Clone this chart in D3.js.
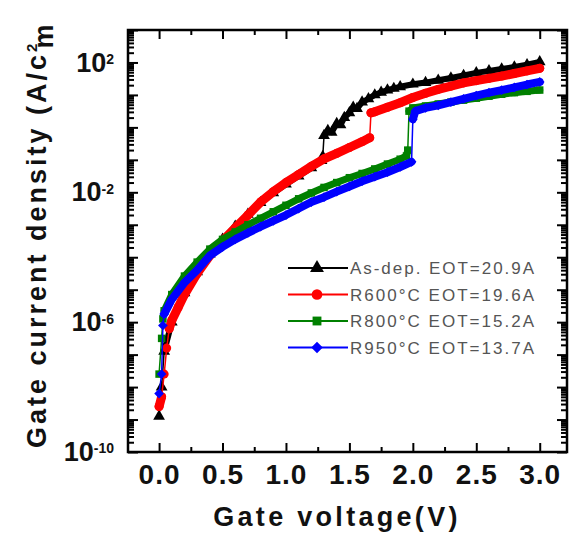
<!DOCTYPE html>
<html>
<head>
<meta charset="utf-8">
<script src="https://cdn.jsdelivr.net/npm/d3@7"></script>
<style>
  body { margin: 0; background: #fff; }
  text { font-family: "Liberation Sans", Arial, sans-serif; }
</style>
</head>
<body>
<div id="drawing"></div>
<script>
// data (log10 of J in A/cm2)
var legendLabels = ["As-dep. EOT=20.9A", "R600°C EOT=19.6A", "R800°C EOT=15.2A", "R950°C EOT=13.7A"];

var asDepV = [0, 0.02, 0.04, 0.1, 0.2, 0.3, 0.4, 0.5, 0.6, 0.7, 0.8, 0.9, 1.0, 1.1, 1.2, 1.28, 1.29, 1.3, 1.33, 1.36, 1.4, 1.43, 1.46, 1.5, 1.53, 1.56, 1.6, 1.65, 1.7, 1.75, 1.8, 1.85, 1.9, 2.0, 2.1, 2.2, 2.3, 2.4, 2.5, 2.6, 2.7, 2.8, 2.9, 3.0];
var asDepLogJ = [-8.9, -8.0, -6.9, -6.0, -5.1, -4.45, -3.9, -3.45, -3.05, -2.68, -2.32, -2.02, -1.75, -1.5, -1.25, -1.02, -0.9, -0.25, -0.1, -0.15, 0.12, 0.08, 0.3, 0.45, 0.62, 0.58, 0.78, 0.88, 1.0, 1.08, 1.15, 1.2, 1.25, 1.33, 1.38, 1.45, 1.52, 1.6, 1.68, 1.74, 1.8, 1.86, 1.93, 2.02];

var r600V = [0, 0.02, 0.04, 0.06, 0.08, 0.1, 0.15, 0.2, 0.3, 0.4, 0.5, 0.6, 0.7, 0.8, 0.9, 1.0, 1.1, 1.2, 1.3, 1.4, 1.5, 1.6, 1.66, 1.67, 1.7, 1.8, 1.9, 2.0, 2.1, 2.2, 2.3, 2.4, 2.5, 2.6, 2.7, 2.8, 2.9, 3.0];
var r600LogJ = [-8.6, -8.3, -7.6, -6.8, -6.2, -5.95, -5.55, -5.15, -4.5, -3.95, -3.5, -3.1, -2.7, -2.3, -1.98, -1.7, -1.45, -1.2, -0.97, -0.8, -0.62, -0.44, -0.32, 0.45, 0.48, 0.62, 0.76, 0.92, 1.05, 1.17, 1.27, 1.37, 1.44, 1.51, 1.58, 1.66, 1.74, 1.82];

var r800V = [0, 0.02, 0.03, 0.04, 0.1, 0.2, 0.3, 0.4, 0.5, 0.6, 0.7, 0.8, 0.9, 1.0, 1.1, 1.2, 1.3, 1.4, 1.5, 1.6, 1.7, 1.8, 1.9, 1.95, 1.96, 1.97, 2.0, 2.1, 2.2, 2.3, 2.4, 2.5, 2.6, 2.7, 2.8, 2.9, 3.0];
var r800LogJ = [-7.6, -6.5, -5.9, -5.65, -5.15, -4.58, -4.15, -3.75, -3.45, -3.22, -3.0, -2.8, -2.6, -2.4, -2.2, -2.02, -1.85, -1.7, -1.55, -1.42, -1.28, -1.13, -0.98, -0.88, -0.7, 0.5, 0.6, 0.66, 0.72, 0.78, 0.84, 0.9, 0.96, 1.02, 1.07, 1.11, 1.15];

var r950V = [0, 0.02, 0.03, 0.04, 0.1, 0.2, 0.3, 0.4, 0.5, 0.6, 0.7, 0.8, 0.9, 1.0, 1.1, 1.2, 1.3, 1.4, 1.5, 1.6, 1.7, 1.8, 1.9, 1.99, 2.0, 2.02, 2.1, 2.2, 2.3, 2.4, 2.5, 2.6, 2.7, 2.8, 2.9, 3.0];
var r950LogJ = [-8.2, -7.6, -6.1, -5.75, -5.3, -4.78, -4.4, -3.95, -3.68, -3.45, -3.25, -3.06, -2.88, -2.7, -2.5, -2.3, -2.15, -1.98, -1.82, -1.66, -1.52, -1.38, -1.22, -1.06, 0.25, 0.5, 0.6, 0.68, 0.78, 0.88, 0.98, 1.07, 1.15, 1.23, 1.32, 1.4];

var xMajorTicks = [0, 0.5, 1.0, 1.5, 2.0, 2.5, 3.0];
var xMinorTicks = [0.25, 0.75, 1.25, 1.75, 2.25, 2.75];
var yLabelExps = [2, -2, -6, -10];

var width = 571;
var height = 533;
var plot = {left: 128, right: 567, top: 30, bottom: 452};

var svg = d3.select("#drawing").append("svg")
  .attr("width", width)
  .attr("height", height);

var xScale = d3.scaleLinear().domain([-0.245, 3.215]).range([plot.left, plot.right]);
var yScale = d3.scaleLog().domain([1e-10, 1e3]).range([plot.bottom, plot.top]);

var diamond = d3.symbolDiamond2 || d3.symbolDiamond;

var series = [
  {v: asDepV, j: asDepLogJ, color: "#000000", symbol: d3.symbolTriangle, size: 60, band: 6},
  {v: r600V, j: r600LogJ, color: "#ff0000", symbol: d3.symbolCircle, size: 64, band: 9},
  {v: r800V, j: r800LogJ, color: "#008000", symbol: d3.symbolSquare, size: 56, band: 7},
  {v: r950V, j: r950LogJ, color: "#0000ff", symbol: diamond, size: 60, band: 8}
];
series.forEach(function(s, i) {
  s.name = legendLabels[i];
  s.points = s.v.map(function(v, k) { return {v: v, j: Math.pow(10, s.j[k])}; });
});

// dense measured points look like a thick band; break it at steep jumps
function bandSegments(pts) {
  var segs = [[pts[0]]];
  for (var i = 1; i < pts.length; i++) {
    var slope = Math.abs(Math.log10(pts[i].j) - Math.log10(pts[i-1].j)) / (pts[i].v - pts[i-1].v);
    if (slope > 20) segs.push([pts[i]]);
    else segs[segs.length - 1].push(pts[i]);
  }
  return segs.filter(function(s) { return s.length > 1; });
}

svg.append("clipPath").attr("id", "clip")
  .append("rect")
  .attr("x", plot.left).attr("y", plot.top)
  .attr("width", plot.right - plot.left).attr("height", plot.bottom - plot.top);

var line = d3.line()
  .x(function(d) { return xScale(d.v); })
  .y(function(d) { return yScale(d.j); });

var curves = svg.append("g").attr("clip-path", "url(#clip)");

series.forEach(function(s) {
  var g = curves.append("g");
  g.selectAll(".band")
    .data(bandSegments(s.points))
    .enter().append("path")
    .attr("class", "band")
    .attr("d", line)
    .attr("fill", "none")
    .attr("stroke", s.color)
    .attr("stroke-width", s.band)
    .attr("stroke-linejoin", "round")
    .attr("stroke-linecap", "round");
  g.append("path")
    .attr("d", line(s.points))
    .attr("fill", "none")
    .attr("stroke", s.color)
    .attr("stroke-width", 1.5);
  g.selectAll(".mark")
    .data(s.points)
    .enter().append("path")
    .attr("class", "mark")
    .attr("transform", function(d) { return "translate(" + xScale(d.v) + "," + yScale(d.j) + ")"; })
    .attr("d", d3.symbol().type(s.symbol).size(s.size))
    .attr("fill", s.color);
});

// axes, ticks pointing inwards
var yMinor = [];
for (var e = -10; e < 3; e++) {
  for (var k = 2; k < 10; k++) yMinor.push(k * Math.pow(10, e));
}
var yMajor = d3.range(-10, 4).map(function(e) { return Math.pow(10, e); });

function styleAxis(g) {
  g.select(".domain").remove();
  g.selectAll("line").attr("stroke", "#000").attr("stroke-width", 2);
}

var xAxis = svg.append("g")
  .attr("transform", "translate(0," + plot.bottom + ")")
  .call(d3.axisBottom(xScale).tickValues(xMajorTicks).tickSizeInner(-9).tickSizeOuter(0).tickPadding(12)
    .tickFormat(d3.format(".1f")));
styleAxis(xAxis);
xAxis.selectAll("text")
  .attr("fill", "#111")
  .style("font-size", "28px")
  .style("font-weight", "bold")
  .style("letter-spacing", "1px");

svg.append("g")
  .attr("transform", "translate(0," + plot.bottom + ")")
  .call(d3.axisBottom(xScale).tickValues(xMinorTicks).tickSizeInner(-5).tickSizeOuter(0).tickFormat(""))
  .call(styleAxis);

svg.append("g")
  .attr("transform", "translate(0," + plot.top + ")")
  .call(d3.axisTop(xScale).tickValues(xMajorTicks).tickSizeInner(-9).tickSizeOuter(0).tickFormat(""))
  .call(styleAxis);
svg.append("g")
  .attr("transform", "translate(0," + plot.top + ")")
  .call(d3.axisTop(xScale).tickValues(xMinorTicks).tickSizeInner(-5).tickSizeOuter(0).tickFormat(""))
  .call(styleAxis);

var yAxis = svg.append("g")
  .attr("transform", "translate(" + plot.left + ",0)")
  .call(d3.axisLeft(yScale).tickValues(yMajor).tickSizeInner(-10).tickSizeOuter(0).tickPadding(14)
    .tickFormat(function(d) { return yLabelExps.indexOf(Math.round(Math.log10(d))) >= 0 ? "10" : ""; }));
styleAxis(yAxis);
yAxis.selectAll("text")
  .attr("fill", "#111")
  .style("font-size", "27px")
  .style("font-weight", "bold")
  .each(function(d) {
    var t = d3.select(this);
    if (t.text() === "") return;
    t.append("tspan")
      .attr("dy", "-0.55em")
      .style("font-size", "14px")
      .text(Math.round(Math.log10(d)));
  });

svg.append("g")
  .attr("transform", "translate(" + plot.left + ",0)")
  .call(d3.axisLeft(yScale).tickValues(yMinor).tickSizeInner(-6).tickSizeOuter(0).tickFormat(""))
  .call(styleAxis);

svg.append("g")
  .attr("transform", "translate(" + plot.right + ",0)")
  .call(d3.axisRight(yScale).tickValues(yMajor).tickSizeInner(-10).tickSizeOuter(0).tickFormat(""))
  .call(styleAxis);
svg.append("g")
  .attr("transform", "translate(" + plot.right + ",0)")
  .call(d3.axisRight(yScale).tickValues(yMinor).tickSizeInner(-6).tickSizeOuter(0).tickFormat(""))
  .call(styleAxis);

// frame
svg.append("rect")
  .attr("x", plot.left).attr("y", plot.top)
  .attr("width", plot.right - plot.left).attr("height", plot.bottom - plot.top)
  .attr("fill", "none")
  .attr("stroke", "#000")
  .attr("stroke-width", 2.5);

// axis titles
svg.append("text")
  .attr("x", 337).attr("y", 526)
  .attr("text-anchor", "middle")
  .attr("fill", "#111")
  .style("font-size", "27px")
  .style("font-weight", "bold")
  .style("letter-spacing", "3.3px")
  .text("Gate voltage(V)");

var yTitle = svg.append("text")
  .attr("transform", "translate(46,448) rotate(-90)")
  .attr("text-anchor", "start")
  .attr("fill", "#111")
  .style("font-size", "27px")
  .style("font-weight", "bold")
  .style("letter-spacing", "3px")
  .text("Gate current density (A/c");
yTitle.append("tspan").attr("dy", "-0.6em").style("font-size", "15px").text("2");
yTitle.append("tspan").attr("dy", "0.6em").attr("dx", -8).text("m");

// legend
var legend = svg.append("g").attr("transform", "translate(288,268)");
var rows = legend.selectAll("g")
  .data(series)
  .enter().append("g")
  .attr("transform", function(d, i) { return "translate(0," + (i * 26.5) + ")"; });
rows.append("line")
  .attr("x1", 0).attr("x2", 60)
  .attr("stroke", function(d) { return d.color; })
  .attr("stroke-width", 2);
rows.append("path")
  .attr("transform", "translate(29,0)")
  .attr("d", function(d) { return d3.symbol().type(d.symbol).size(d.size * 1.4)(); })
  .attr("fill", function(d) { return d.color; });
rows.append("text")
  .attr("x", 62)
  .attr("dy", "0.36em")
  .attr("fill", "#555")
  .attr("textLength", 184)
  .attr("lengthAdjust", "spacing")
  .style("font-size", "17px")
  .text(function(d) { return d.name; });
</script>
</body>
</html>
